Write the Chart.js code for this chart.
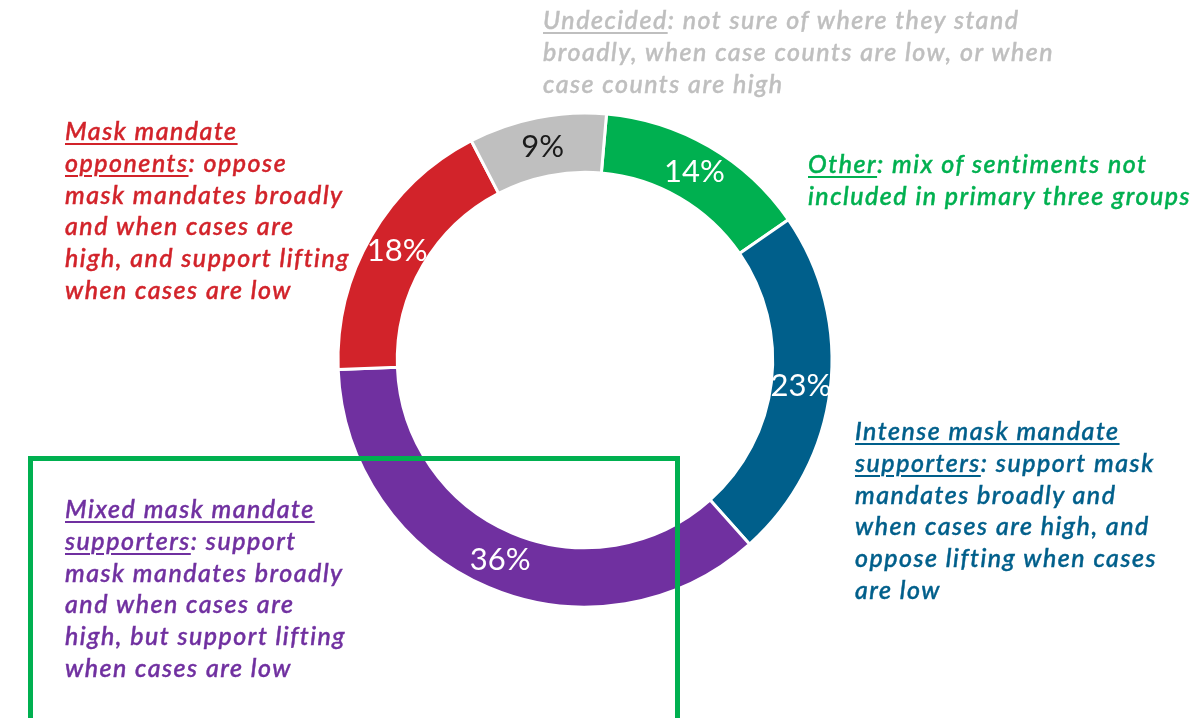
<!DOCTYPE html>
<html>
<head>
<meta charset="utf-8">
<script src="https://cdn.jsdelivr.net/npm/chart.js@4.4.0/dist/chart.umd.min.js"></script>
<style>
  html, body { margin: 0; padding: 0; background: #fff; overflow: hidden; }
  #wrap { position: relative; width: 1200px; height: 718px; }
  #pie { position: absolute; left: 0; top: 0; }
  .note { position: absolute; font-family: Lato, "Noto Sans", sans-serif; font-style: italic; font-weight: 500;
          font-size: 25px; letter-spacing: 1.5px; line-height: 31.8px; white-space: nowrap;
          -webkit-text-stroke: 0.45px currentColor; }
  .note u { text-underline-offset: 3px; text-decoration-thickness: 1.5px; }
  #box { position: absolute; left: 28px; top: 456px; width: 642px; height: 300px; border: 5px solid #00b050; }
</style>
</head>
<body>
<div id="wrap">
  <canvas id="pie" width="1200" height="718"></canvas>
  <div class="note" style="left:543px; top:4px; color:#bfbfbf;"><u>Undecided</u>: not sure of where they stand<br>broadly, when case counts are low, or when<br>case counts are high</div>
  <div class="note" style="left:65px; top:115px; color:#d2232a;"><u>Mask mandate</u><br><u>opponents</u>: oppose<br>mask mandates broadly<br>and when cases are<br>high, and support lifting<br>when cases are low</div>
  <div class="note" style="left:808px; top:148px; color:#00b050;"><u>Other</u>: mix of sentiments not<br>included in primary three groups</div>
  <div class="note" style="left:855px; top:415px; color:#005f8b;"><u>Intense mask mandate</u><br><u>supporters</u>: support mask<br>mandates broadly and<br>when cases are high, and<br>oppose lifting when cases<br>are low</div>
  <div class="note" style="left:65px; top:493px; color:#7030a0;"><u>Mixed mask mandate</u><br><u>supporters</u>: support<br>mask mandates broadly<br>and when cases are<br>high, but support lifting<br>when cases are low</div>
  <div id="box"></div>
</div>
<script>
const groups = ['Other', 'Intense mask mandate supporters', 'Mixed mask mandate supporters', 'Mask mandate opponents', 'Undecided'];
const shares = [14, 23, 36, 18, 9];
const sliceColors = ['#00b050', '#005f8b', '#7030a0', '#d2232a', '#bfbfbf'];
const labelColors = ['#ffffff', '#ffffff', '#ffffff', '#ffffff', '#1a1a1a'];

const pie = document.getElementById('pie');

// percent labels in the middle of each ring slice
const pctLabels = {
	id: 'pctLabels',
	afterDatasetsDraw(chart){
		const ctx = chart.ctx;
		const meta = chart.getDatasetMeta(0);
		meta.data.forEach((arc, i)=>{
			const p = arc.tooltipPosition();
			ctx.save();
			ctx.font = '31px Lato, "Noto Sans", sans-serif';
			ctx.fillStyle = labelColors[i];
			ctx.textAlign = 'center';
			ctx.textBaseline = 'middle';
			ctx.fillText(shares[i] + '%', p.x, p.y);
			ctx.restore();
		});
	}
};

const data = {
  labels: groups,
  datasets: [{
	data: shares,
	backgroundColor: sliceColors,
	borderColor: '#ffffff',
	borderWidth: 3,
	hoverOffset: 0
  }]
};

const config = {
  type: 'doughnut',
  data: data,
  options: {
	responsive: false,
	animation: false,
	rotation: 5,
	radius: 247,
	cutout: '76%',
	layout: { padding: { left: 0, right: 30, top: 2, bottom: 0 } },
	plugins: {
	  legend: { display: false },
	  tooltip: { enabled: false }
	}
  },
  plugins: [pctLabels]
};

new Chart(pie, config);
</script>
</body>
</html>
